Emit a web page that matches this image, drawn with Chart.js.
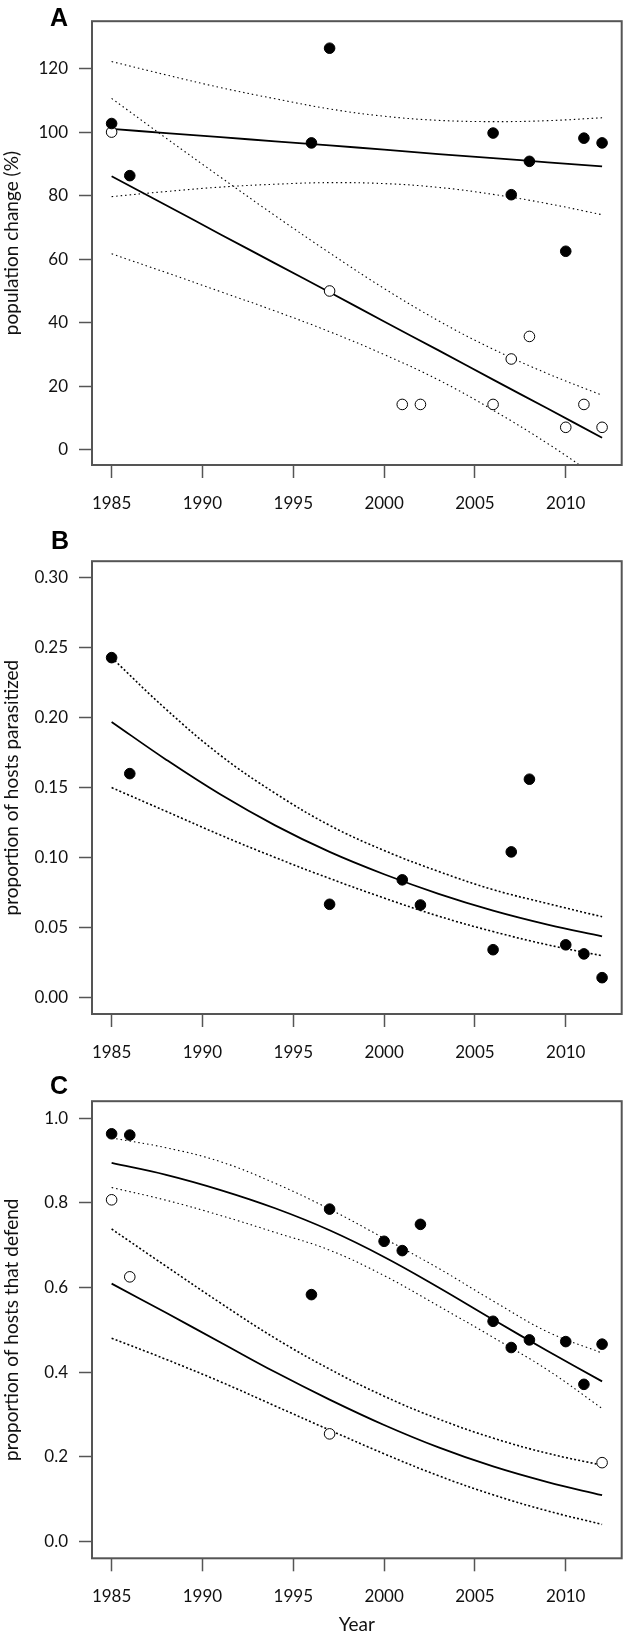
<!DOCTYPE html>
<html>
<head>
<meta charset="utf-8">
<script src="https://cdn.jsdelivr.net/npm/chart.js@4.4.1/dist/chart.umd.min.js"></script>
<style>
  html, body { margin: 0; padding: 0; background: #fff; overflow: hidden; }
  #wrap { position: relative; width: 628px; height: 1632px; }
  canvas { position: absolute; left: 0; }
  .tag { position: absolute; font-family: "Liberation Sans", Arial, sans-serif; font-weight: bold; font-size: 25px; line-height: 1; color: #000; }
</style>
</head>
<body>
<div id="wrap">
  <canvas id="chartA" width="628" height="540" style="top:0;width:628px;height:540px"></canvas>
  <canvas id="chartB" width="628" height="540" style="top:540px;width:628px;height:540px"></canvas>
  <canvas id="chartC" width="628" height="560" style="top:1080px;width:628px;height:560px"></canvas>
  <div class="tag" style="left:50px;top:5px">A</div>
  <div class="tag" style="left:51px;top:528px">B</div>
  <div class="tag" style="left:50px;top:1073px">C</div>
</div>
<script>
// x axis shared by the three panels
const yearTicks = [1985, 1990, 1995, 2000, 2005, 2010];
const curveYears = [1985, 1988, 1991, 1994, 1997, 2000, 2003, 2006, 2009, 2012];

// Panel A - population change (%)
const aTicks = [0, 20, 40, 60, 80, 100, 120];
const aFilledYears = [1985, 1986, 1996, 1997, 2006, 2007, 2008, 2010, 2011, 2012];
const aFilledVals = [102.7, 86.3, 96.6, 126.4, 99.7, 80.3, 90.8, 62.5, 98.1, 96.6];
const aOpenYears = [1985, 1997, 2001, 2002, 2006, 2007, 2008, 2010, 2011, 2012];
const aOpenVals = [100, 50, 14.3, 14.3, 14.3, 28.6, 35.7, 7.1, 14.3, 7.1];
const aFilledFit = [101.0, 99.7, 98.4, 97.1, 95.8, 94.5, 93.1, 91.8, 90.5, 89.2];
const aFilledUpper = [122.2, 118.0, 114.0, 110.5, 107.3, 105.0, 103.7, 103.3, 103.6, 104.5];
const aFilledLower = [79.7, 81.3, 82.7, 83.6, 84.1, 83.8, 82.6, 80.4, 77.5, 74.0];
const aOpenFit = [86.1, 77.0, 67.8, 58.7, 49.6, 40.4, 31.3, 22.1, 13.0, 3.8];
const aOpenUpper = [110.6, 98.1, 85.8, 73.7, 62.0, 50.8, 40.6, 31.7, 24.0, 17.2];
const aOpenLower = [61.7, 55.8, 49.8, 43.7, 37.2, 30.0, 22.0, 12.5, 2.0, -9.6];

// Panel B - proportion of hosts parasitized
const bTicks = [0, 0.05, 0.10, 0.15, 0.20, 0.25, 0.30];
const bTickLabels = ['0.00', '0.05', '0.10', '0.15', '0.20', '0.25', '0.30'];
const bYears = [1985, 1986, 1997, 2001, 2002, 2006, 2007, 2008, 2010, 2011, 2012];
const bVals = [0.243, 0.160, 0.0665, 0.084, 0.066, 0.034, 0.104, 0.156, 0.0375, 0.031, 0.014];
const bFit = [0.197, 0.170, 0.145, 0.123, 0.104, 0.088, 0.074, 0.062, 0.052, 0.0436];
const bUpper = [0.243, 0.206, 0.173, 0.146, 0.123, 0.105, 0.090, 0.077, 0.067, 0.0576];
const bLower = [0.150, 0.133, 0.116, 0.100, 0.085, 0.071, 0.058, 0.047, 0.0375, 0.0297];

// Panel C - proportion of hosts that defend
const cTicks = [0, 0.2, 0.4, 0.6, 0.8, 1.0];
const cTickLabels = ['0.0', '0.2', '0.4', '0.6', '0.8', '1.0'];
const cFilledYears = [1985, 1986, 1996, 1997, 2000, 2001, 2002, 2006, 2007, 2008, 2010, 2011, 2012];
const cFilledVals = [0.963, 0.960, 0.583, 0.785, 0.709, 0.687, 0.749, 0.520, 0.458, 0.476, 0.472, 0.371, 0.466];
const cOpenYears = [1985, 1986, 1997, 2012];
const cOpenVals = [0.807, 0.625, 0.254, 0.186];
const cFilledFit = [0.894, 0.866, 0.830, 0.787, 0.735, 0.672, 0.600, 0.524, 0.450, 0.378];
const cFilledUpper = [0.953, 0.930, 0.897, 0.846, 0.785, 0.716, 0.645, 0.568, 0.495, 0.445];
const cFilledLower = [0.836, 0.806, 0.770, 0.730, 0.688, 0.628, 0.556, 0.482, 0.405, 0.314];
const cOpenFit = [0.609, 0.540, 0.470, 0.400, 0.335, 0.275, 0.222, 0.177, 0.140, 0.109];
const cOpenUpper = [0.738, 0.650, 0.563, 0.480, 0.407, 0.343, 0.289, 0.244, 0.208, 0.180];
const cOpenLower = [0.480, 0.430, 0.377, 0.320, 0.263, 0.207, 0.155, 0.110, 0.072, 0.040];

Chart.defaults.font.family = 'Lato';
Chart.defaults.color = '#111';

const AXIS_GRAY = '#555';

function toPoints(xs, ys) {
    return xs.map((x, i) => ({ x: x, y: ys[i] }));
}

function pointSet(xs, ys, filled) {
    return {
        data: toPoints(xs, ys),
        pointRadius: 5.3,
        pointBorderWidth: 1,
        pointBackgroundColor: filled ? '#000' : '#fff',
        pointBorderColor: '#000',
        showLine: false
    };
}

// kind: 'solid', 'dot' (fine dotted) or 'dotBold' (heavier dotted)
function curveSet(ys, kind) {
    const styles = {
        solid: { borderWidth: 1.8, borderDash: [] },
        dot: { borderWidth: 1.1, borderDash: [1.5, 3] },
        dotBold: { borderWidth: 1.6, borderDash: [2, 2.2] }
    };
    return {
        data: toPoints(curveYears, ys),
        showLine: true,
        borderColor: '#000',
        borderWidth: styles[kind].borderWidth,
        borderDash: styles[kind].borderDash,
        pointRadius: 0,
        tension: 0.4,
        fill: false
    };
}

const framePlugin = {
    id: 'frame',
    afterDraw(chart) {
        const a = chart.chartArea;
        const ctx = chart.ctx;
        ctx.save();
        ctx.strokeStyle = AXIS_GRAY;
        ctx.lineWidth = 2;
        ctx.strokeRect(a.left, a.top, a.right - a.left, a.bottom - a.top);
        ctx.restore();
    }
};

function buildPanel(id, cfg) {
    const ctx = document.getElementById(id).getContext('2d');
    return new Chart(ctx, {
        type: 'scatter',
        data: { datasets: cfg.datasets },
        plugins: [framePlugin],
        options: {
            responsive: false,
            animation: false,
            devicePixelRatio: 1,
            layout: { padding: { top: cfg.padTop, right: 2, left: 0, bottom: 0 } },
            plugins: { legend: { display: false }, tooltip: { enabled: false } },
            scales: {
                x: {
                    type: 'linear',
                    min: 1983.92,
                    max: 2013.08,
                    afterBuildTicks: s => { s.ticks = yearTicks.map(v => ({ value: v })); },
                    afterFit: s => { s.height = cfg.xHeight; },
                    ticks: {
                        autoSkip: false, maxRotation: 0, padding: 15,
                        font: { size: 17 },
                        callback: v => String(v)
                    },
                    grid: { drawOnChartArea: false, drawTicks: true, tickLength: 13, tickColor: AXIS_GRAY, tickWidth: 1.5 },
                    border: { display: false },
                    title: cfg.xTitle ? {
                        display: true, text: cfg.xTitle, color: '#111',
                        font: { size: 19 }, padding: { top: 0, bottom: 3.6 }
                    } : { display: false }
                },
                y: {
                    type: 'linear',
                    min: cfg.yMin,
                    max: cfg.yMax,
                    afterBuildTicks: s => { s.ticks = cfg.yTicks.map(v => ({ value: v })); },
                    afterFit: s => { s.width = 92; },
                    ticks: {
                        autoSkip: false, padding: 11,
                        font: { size: 17 },
                        callback: (v, i) => cfg.yLabels[i]
                    },
                    grid: { drawOnChartArea: false, drawTicks: true, tickLength: 13, tickColor: AXIS_GRAY, tickWidth: 1.5 },
                    border: { display: false },
                    title: {
                        display: true, text: cfg.yTitle, color: '#111',
                        font: { size: 19 }, padding: 0
                    }
                }
            }
        }
    });
}

buildPanel('chartA', {
    padTop: 5, xHeight: 75,
    yMin: -4.76, yMax: 134.9,
    yTicks: aTicks, yLabels: aTicks.map(String),
    yTitle: 'population change (%)',
    datasets: [
        pointSet(aFilledYears, aFilledVals, true),
        pointSet(aOpenYears, aOpenVals, false),
        curveSet(aFilledFit, 'solid'),
        curveSet(aFilledUpper, 'dot'),
        curveSet(aFilledLower, 'dot'),
        curveSet(aOpenFit, 'solid'),
        curveSet(aOpenUpper, 'dot'),
        curveSet(aOpenLower, 'dot')
    ]
});

buildPanel('chartB', {
    padTop: 12.7, xHeight: 66,
    yMin: -0.012, yMax: 0.312,
    yTicks: bTicks, yLabels: bTickLabels,
    yTitle: 'proportion of hosts parasitized',
    datasets: [
        pointSet(bYears, bVals, true),
        curveSet(bFit, 'solid'),
        curveSet(bUpper, 'dotBold'),
        curveSet(bLower, 'dotBold')
    ]
});

buildPanel('chartC', {
    padTop: 17.3, xHeight: 81.7,
    yMin: -0.04, yMax: 1.04,
    yTicks: cTicks, yLabels: cTickLabels,
    yTitle: 'proportion of hosts that defend',
    xTitle: 'Year',
    datasets: [
        pointSet(cFilledYears, cFilledVals, true),
        pointSet(cOpenYears, cOpenVals, false),
        curveSet(cFilledFit, 'solid'),
        curveSet(cFilledUpper, 'dot'),
        curveSet(cFilledLower, 'dot'),
        curveSet(cOpenFit, 'solid'),
        curveSet(cOpenUpper, 'dotBold'),
        curveSet(cOpenLower, 'dotBold')
    ]
});
</script>
</body>
</html>
